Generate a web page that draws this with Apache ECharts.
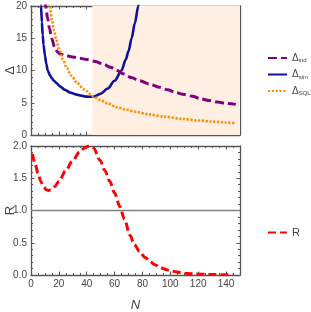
<!DOCTYPE html>
<html><head><meta charset="utf-8">
<script src="https://cdn.jsdelivr.net/npm/echarts@6/dist/echarts.min.js"></script>
<style>html,body{margin:0;padding:0;background:#fff}#c{width:311px;height:312px}</style>
</head><body><div id="c"></div>
<script>
// ---- data ----
var nSim = [6.5, 7.2, 7.8, 8.4, 9, 10, 11, 12, 13.5, 15, 16.5, 18.4, 21, 24.4, 28, 32, 36, 40, 43, 46, 50, 55, 60, 65, 68, 70, 72.2, 74.5, 77, 79];
var dSim = [25, 20, 17.5, 15.5, 14, 12.3, 11, 10, 9.3, 8.8, 8.4, 8, 7.5, 7, 6.6, 6.3, 6.1, 5.95, 5.92, 6.05, 6.4, 7.2, 8.4, 10, 11.7, 13, 15, 17.3, 20, 22.5];
var nInd = [8.5, 10.5, 12, 13.3, 14.8, 17, 19, 21, 24, 30, 35, 40, 46, 52, 57, 62, 66, 72, 78, 85, 92, 98, 104, 109, 116, 122, 128, 134, 140, 147];
var dInd = [25, 20, 18, 16.5, 15, 13.6, 12.9, 12.55, 12.35, 12.1, 11.9, 11.7, 11.4, 11.0, 10.5, 10.0, 9.5, 8.9, 8.4, 7.9, 7.4, 7.0, 6.6, 6.3, 6.0, 5.6, 5.35, 5.1, 4.9, 4.75];
var nSQL = [11, 13.5, 15, 16.5, 18, 20, 23, 25.6, 29, 33, 38, 44.7, 50, 55, 61.4, 68, 75, 85, 95, 109, 120, 130, 140, 147];
var dSQL = [24, 20, 17.8, 16.2, 14.9, 13.4, 11.7, 10.4, 9.2, 8.1, 7.1, 6.0, 5.4, 4.9, 4.3, 3.95, 3.6, 3.2, 2.85, 2.5, 2.25, 2.08, 1.93, 1.83];
var nR = [1, 3, 5, 7, 9, 11, 12.5, 14, 17, 20, 25, 30, 35, 39, 42, 45, 49.5, 53, 56.6, 60, 63.8, 67, 71, 74, 78, 82, 85.3, 89, 92.5, 96, 99.6, 104, 108, 112, 118, 125, 132, 139, 145];
var dR = [1.88, 1.72, 1.58, 1.45, 1.37, 1.32, 1.31, 1.32, 1.37, 1.45, 1.62, 1.78, 1.91, 1.98, 2.0, 1.97, 1.78, 1.62, 1.45, 1.27, 1.06, 0.87, 0.62, 0.48, 0.36, 0.27, 0.21, 0.16, 0.12, 0.09, 0.07, 0.05, 0.035, 0.025, 0.015, 0.01, 0.006, 0.004, 0.003];
var shadeFrom = 44, shadeTo = 150;
var refLine = 1;
var xTicks = [0, 20, 40, 60, 80, 100, 120, 140];

function pairs(xs, ys) { return xs.map(function (x, i) { return [x, ys[i]]; }); }

var frame = '#555555';
var txt = '#444444';
var font = 'Liberation Sans, Arial, sans-serif';

function xAx(grid, pos, labels) {
  return {
    type: 'value', gridIndex: grid, position: pos, min: 0, max: 150, interval: 20,
    axisLine: { show: true, onZero: false, lineStyle: { color: frame, width: 1.3 } },
    axisTick: { show: true, inside: true, length: 3.5, lineStyle: { color: frame, width: 1 } },
    minorTick: { show: true, splitNumber: 4, length: 2, lineStyle: { color: frame, width: 1 } },
    axisLabel: { show: labels, color: txt, fontSize: 10, fontFamily: font, margin: 4, showMaxLabel: false,
      formatter: function (v) { return xTicks.indexOf(v) >= 0 ? String(v) : ''; } },
    splitLine: { show: false },
    name: labels ? 'N' : '', nameLocation: 'middle', nameGap: 24, nameMoveOverlap: false,
    nameTextStyle: { fontStyle: 'italic', fontSize: 13, color: txt, fontFamily: font }
  };
}
function yAx(grid, pos, labels, max, interval, name, fmt) {
  return {
    type: 'value', gridIndex: grid, position: pos, min: 0, max: max, interval: interval,
    axisLine: { show: true, onZero: false, lineStyle: { color: frame, width: 1.3 } },
    axisTick: { show: true, inside: true, length: 3.5, lineStyle: { color: frame, width: 1 } },
    minorTick: { show: true, splitNumber: 5, length: 2, lineStyle: { color: frame, width: 1 } },
    axisLabel: { show: labels, color: txt, fontSize: 10, fontFamily: font, margin: 4, formatter: fmt },
    splitLine: { show: false },
    name: labels ? name : '', nameLocation: 'middle', nameGap: 14, nameRotate: 90, nameMoveOverlap: false,
    nameTextStyle: { fontSize: 13, color: txt, fontFamily: font }
  };
}

var rich = {
  d: { fontSize: 10, color: txt, fontFamily: font },
  s: { fontSize: 6, color: txt, fontFamily: font, padding: [5, 0, 0, 0] }
};

var chart = echarts.init(document.getElementById('c'), null, { renderer: 'canvas' });
chart.setOption({
  animation: false,
  backgroundColor: '#ffffff',
  grid: [
    { left: 31, top: 6, width: 209, height: 129, containLabel: false, outerBoundsMode: 'none' },
    { left: 31, top: 146, width: 209, height: 129, containLabel: false, outerBoundsMode: 'none' }
  ],
  xAxis: [xAx(0, 'bottom', false), xAx(0, 'top', false), xAx(1, 'bottom', true), xAx(1, 'top', false)],
  yAxis: [
    yAx(0, 'left', true, 20, 5, 'Δ', function (v) { return String(v); }),
    yAx(0, 'right', false, 20, 5, '', null),
    yAx(1, 'left', true, 2, 0.5, 'R', function (v) { return v.toFixed(1); }),
    yAx(1, 'right', false, 2, 0.5, '', null)
  ],
  legend: [
    {
      data: ['ind', 'sim', 'SQL'], orient: 'vertical', left: 262, top: 48, itemWidth: 19, itemHeight: 10, itemGap: 6,
      formatter: function (n) { return '{d|Δ}{s|' + n + '}'; },
      itemStyle: { opacity: 0 },
      textStyle: { rich: rich, overflow: 'none' }
    },
    {
      data: ['R'], orient: 'vertical', left: 262, top: 222, itemWidth: 19, itemHeight: 10,
      itemStyle: { opacity: 0 },
      textStyle: { fontSize: 11, color: txt, fontFamily: font }
    }
  ],
  series: [
    {
      name: 'shade', type: 'line', xAxisIndex: 0, yAxisIndex: 0, data: [], z: 0, silent: true,
      markArea: { silent: true, itemStyle: { color: '#feefe2' }, data: [[{ xAxis: shadeFrom }, { xAxis: shadeTo }]] }
    },
    {
      name: 'sim', type: 'line', xAxisIndex: 0, yAxisIndex: 0, data: pairs(nSim, dSim), smooth: 0.3, smoothMonotone: 'x', symbol: 'none', z: 3,
      lineStyle: { color: '#1010a0', width: 2.6 }, itemStyle: { color: '#1010a0' }
    },
    {
      name: 'ind', type: 'line', xAxisIndex: 0, yAxisIndex: 0, data: pairs(nInd, dInd), smooth: 0.3, smoothMonotone: 'x', symbol: 'none', z: 4,
      lineStyle: { color: '#800080', width: 3, type: [9, 4] }, itemStyle: { color: '#800080' }
    },
    {
      name: 'SQL', type: 'line', xAxisIndex: 0, yAxisIndex: 0, data: pairs(nSQL, dSQL), smooth: 0.3, smoothMonotone: 'x', symbol: 'none', z: 5,
      lineStyle: { color: '#ff8c00', width: 2.6, type: [2.2, 1.6] }, itemStyle: { color: '#ff8c00' }
    },
    {
      name: 'one', type: 'line', xAxisIndex: 2, yAxisIndex: 2, data: [[0, refLine], [150, refLine]], symbol: 'none', z: 2,
      lineStyle: { color: '#808080', width: 1.6 }
    },
    {
      name: 'R', type: 'line', xAxisIndex: 2, yAxisIndex: 2, data: pairs(nR, dR), smooth: 0.3, smoothMonotone: 'x', symbol: 'none', z: 4,
      lineStyle: { color: '#ff0000', width: 3, type: [8, 4] }, itemStyle: { color: '#ff0000' }
    }
  ]
});
</script></body></html>
